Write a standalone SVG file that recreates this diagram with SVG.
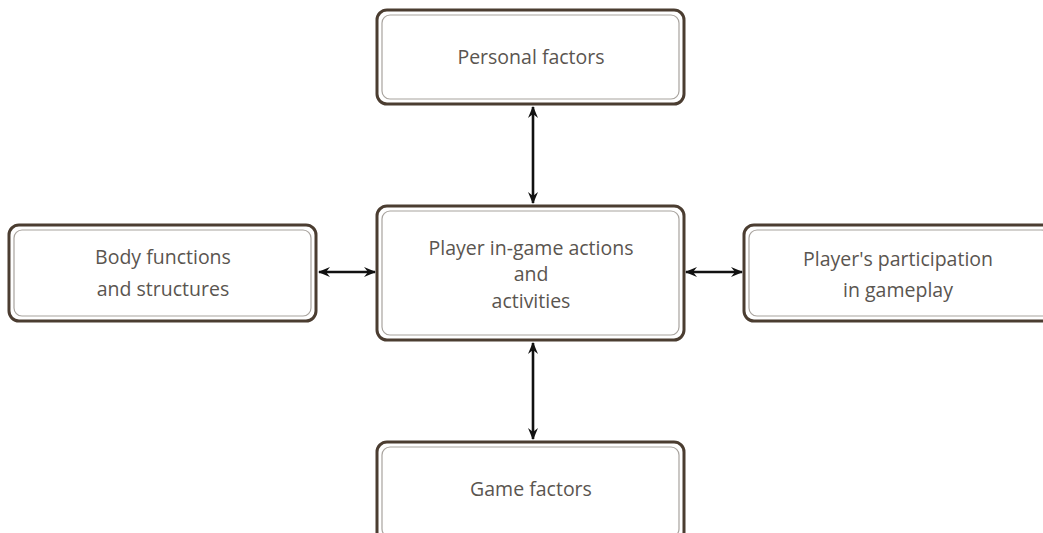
<svg xmlns="http://www.w3.org/2000/svg" width="1043" height="533" viewBox="0 0 1043 533">
<defs>
<style>
.outer{fill:#fff;stroke:#4b3d31;stroke-width:3}
.inner{fill:none;stroke:#a8a39e;stroke-width:1.2}
.t{font-family:"Open Sans",sans-serif;font-size:19.5px;fill:#5a5550;text-anchor:middle}
.c{stroke:#111;stroke-width:2.6;fill:none;marker-start:url(#ah);marker-end:url(#ah)}
</style>
<marker id="ah" viewBox="0 0 12 12" refX="11" refY="6" markerWidth="12" markerHeight="12" orient="auto-start-reverse" markerUnits="userSpaceOnUse">
<path d="M0,1 L12,6 L0,11 L4,6 Z" fill="#111"/>
</marker>
</defs>
<rect width="1043" height="533" fill="#fff"/>
<g id="personal">
<rect class="outer" x="377" y="10" width="307" height="94" rx="10"/>
<rect class="inner" x="382" y="15" width="297" height="84" rx="8"/>
<text class="t" x="531" y="64">Personal factors</text>
</g>
<g id="body">
<rect class="outer" x="9" y="225" width="307" height="96" rx="10"/>
<rect class="inner" x="14" y="230" width="297" height="86" rx="8"/>
<text class="t" x="163" y="264">Body functions</text>
<text class="t" x="163" y="296">and structures</text>
</g>
<g id="center">
<rect class="outer" x="377" y="206" width="307" height="134" rx="10"/>
<rect class="inner" x="382" y="211" width="297" height="124" rx="8"/>
<text class="t" x="531" y="255">Player in-game actions</text>
<text class="t" x="531" y="281">and</text>
<text class="t" x="531" y="308">activities</text>
</g>
<g id="participation">
<rect class="outer" x="744" y="225" width="310" height="96" rx="10"/>
<rect class="inner" x="749" y="230" width="300" height="86" rx="8"/>
<text class="t" x="898" y="266">Player's participation</text>
<text class="t" x="898" y="297">in gameplay</text>
</g>
<g id="game">
<rect class="outer" x="377" y="442" width="307" height="100" rx="10"/>
<rect class="inner" x="382" y="447" width="297" height="90" rx="8"/>
<text class="t" x="531" y="496">Game factors</text>
</g>
<g id="connectors">
<line class="c" x1="533" y1="107" x2="533" y2="203"/>
<line class="c" x1="533" y1="343" x2="533" y2="439"/>
<line class="c" x1="319" y1="272" x2="375" y2="272"/>
<line class="c" x1="686" y1="272" x2="742" y2="272"/>
</g>
</svg>
